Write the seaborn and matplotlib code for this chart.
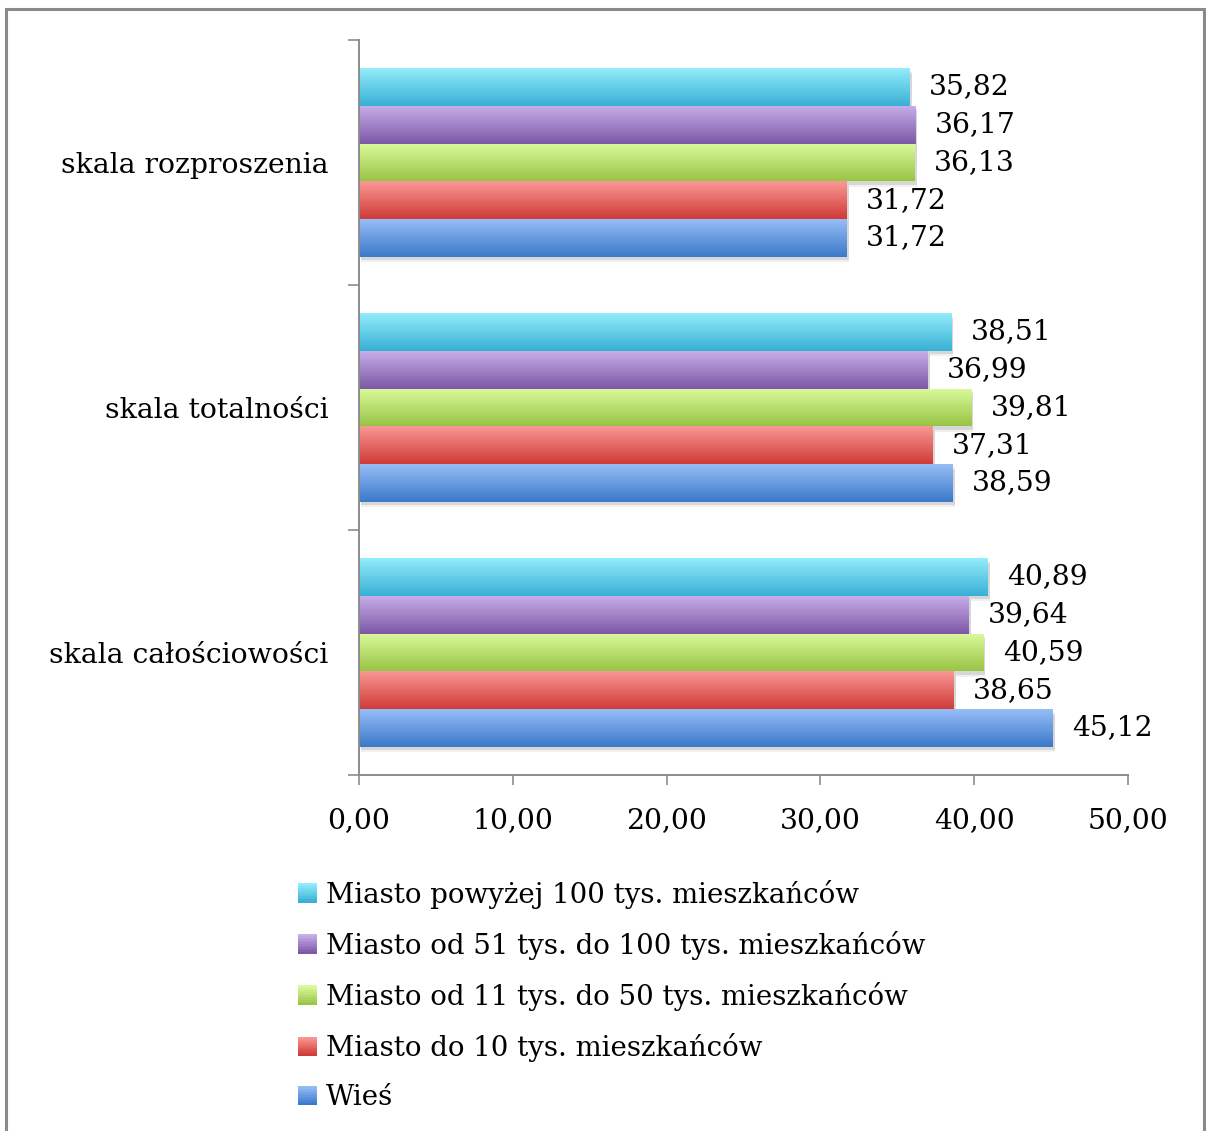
import numpy as np
import pandas as pd
import matplotlib
matplotlib.use("Agg")
import matplotlib.pyplot as plt
import matplotlib.patheffects as pe
from matplotlib.colors import to_rgb
from matplotlib.patches import Rectangle
from matplotlib.legend_handler import HandlerBase
import seaborn as sns

# --- data -------------------------------------------------------------
categories = ["skala rozproszenia", "skala totalności", "skala całościowości"]
series = [
    "Miasto powyżej 100 tys. mieszkańców",
    "Miasto od 51 tys. do 100 tys. mieszkańców",
    "Miasto od 11 tys. do 50 tys. mieszkańców",
    "Miasto do 10 tys. mieszkańców",
    "Wieś",
]
v_powyzej_100 = [35.82, 38.51, 40.89]
v_51_100 = [36.17, 36.99, 39.64]
v_11_50 = [36.13, 39.81, 40.59]
v_do_10 = [31.72, 37.31, 38.65]
v_wies = [31.72, 38.59, 45.12]
x_ticks = [0, 10, 20, 30, 40, 50]

# top / bottom colours of each bar gradient
grad = {
    series[0]: ("#93ecfb", "#38b0d5"),
    series[1]: ("#c6aee8", "#7c57a6"),
    series[2]: ("#dbfa9c", "#98c445"),
    series[3]: ("#fa9895", "#cf3b37"),
    series[4]: ("#97bdf6", "#3b79ca"),
}

values = [v_powyzej_100, v_51_100, v_11_50, v_do_10, v_wies]
df = pd.DataFrame(
    [(c, s, vals[i]) for s, vals in zip(series, values) for i, c in enumerate(categories)],
    columns=["kategoria", "grupa", "wartosc"],
)

sns.set_theme(style="white")
plt.rcParams["font.family"] = ["DejaVu Serif"]
plt.rcParams["text.color"] = "black"
plt.rcParams["xtick.color"] = "black"
plt.rcParams["ytick.color"] = "black"
FS = 20.3
FS_LEG = 19.9

fig = plt.figure(figsize=(12.06, 11.31), dpi=100)
ax = fig.add_axes([359 / 1206, 1 - 775 / 1131, (1128 - 359) / 1206, (775 - 40) / 1131])

mid = {s: tuple((np.array(to_rgb(a)) + np.array(to_rgb(b))) / 2) for s, (a, b) in grad.items()}
sns.barplot(
    data=df, y="kategoria", x="wartosc", hue="grupa",
    order=categories, hue_order=series, palette=mid,
    orient="h", width=0.77, gap=0, errorbar=None, saturation=1,
    legend=False, ax=ax, linewidth=0,
)

def gradient_img(top, bottom, n=64):
    t = np.linspace(0, 1, n)[:, None]
    c = (1 - t) * np.array(to_rgb(top)) + t * np.array(to_rgb(bottom))
    return c[:, None, :]

shadow = [
    pe.SimplePatchShadow(offset=(1.5, -4), shadow_rgbFace="#000000", alpha=0.06),
    pe.SimplePatchShadow(offset=(1.5, -2.5), shadow_rgbFace="#000000", alpha=0.10),
    pe.Normal(),
]
for container, s in zip(ax.containers, series):
    top, bottom = grad[s]
    img = gradient_img(top, bottom)
    for bar in container:
        bar.set_path_effects(shadow)
        x0, y0 = bar.get_x(), bar.get_y()
        w, h = bar.get_width(), bar.get_height()
        # y axis is inverted: y0 is the upper edge on screen
        im = ax.imshow(img, extent=(x0, x0 + w, y0 + h, y0), aspect="auto",
                       interpolation="bilinear", zorder=bar.get_zorder() + 0.1)
        im.set_clip_path(bar)
    ax.bar_label(container, labels=[f"{v:.2f}".replace(".", ",") for v in container.datavalues],
                 padding=14, fontsize=FS, color="black")

ax.set_xlim(0, 50)
ax.set_ylim(2.5, -0.5)
ax.set_xticks(x_ticks)
ax.set_xticklabels([f"{t:.2f}".replace(".", ",") for t in x_ticks], fontsize=FS)
ax.set_yticks([-0.5, 0.5, 1.5, 2.5])
ax.set_yticklabels([])
ax.set_yticks(range(len(categories)), minor=True)
ax.set_yticklabels(categories, minor=True, fontsize=FS)
ax.tick_params(axis="y", which="major", left=True, length=8, width=1.2, color="#8c8c8c", direction="out")
ax.tick_params(axis="y", which="minor", left=False, length=0, pad=22)
ax.tick_params(axis="x", bottom=True, length=7, width=1.2, color="#8c8c8c", direction="out", pad=16)
ax.set_xlabel("")
ax.set_ylabel("")
for side in ("top", "right"):
    ax.spines[side].set_visible(False)
for side in ("left", "bottom"):
    ax.spines[side].set_color("#8c8c8c")
    ax.spines[side].set_linewidth(1.4)


class GradientSquare(HandlerBase):
    def __init__(self, top, bottom):
        super().__init__()
        self.top, self.bottom = top, bottom

    def create_artists(self, legend, orig_handle, xdescent, ydescent, width, height, fontsize, trans):
        n = 12
        side = min(width, height)
        x0 = -xdescent + (width - side) / 2
        y0 = -ydescent + (height - side) / 2
        arts = []
        for i in range(n):
            t = i / (n - 1)
            c = (1 - t) * np.array(to_rgb(self.top)) + t * np.array(to_rgb(self.bottom))
            r = Rectangle((x0, y0 + side * (1 - (i + 1) / n)), side, side / n + 0.3,
                          facecolor=c, edgecolor="none", transform=trans)
            arts.append(r)
        return arts


handles = [Rectangle((0, 0), 1, 1) for _ in series]
handler_map = {h: GradientSquare(*grad[s]) for h, s in zip(handles, series)}
fig.legend(handles, series, handler_map=handler_map, loc="upper left",
           bbox_to_anchor=(298 / 1206, 1 - 880 / 1131), frameon=False, fontsize=FS_LEG,
           handlelength=0.7, handleheight=0.7, handletextpad=0.3, labelspacing=0.80,
           borderpad=0, borderaxespad=0)

# outer chart frame
fig.add_artist(Rectangle((6 / 1206, -0.05), (1198) / 1206, 1.05 - 9 / 1131,
                         transform=fig.transFigure, fill=False,
                         edgecolor="#8a8a8a", linewidth=2.2))

fig.savefig("out.png", dpi=100, facecolor="white")
